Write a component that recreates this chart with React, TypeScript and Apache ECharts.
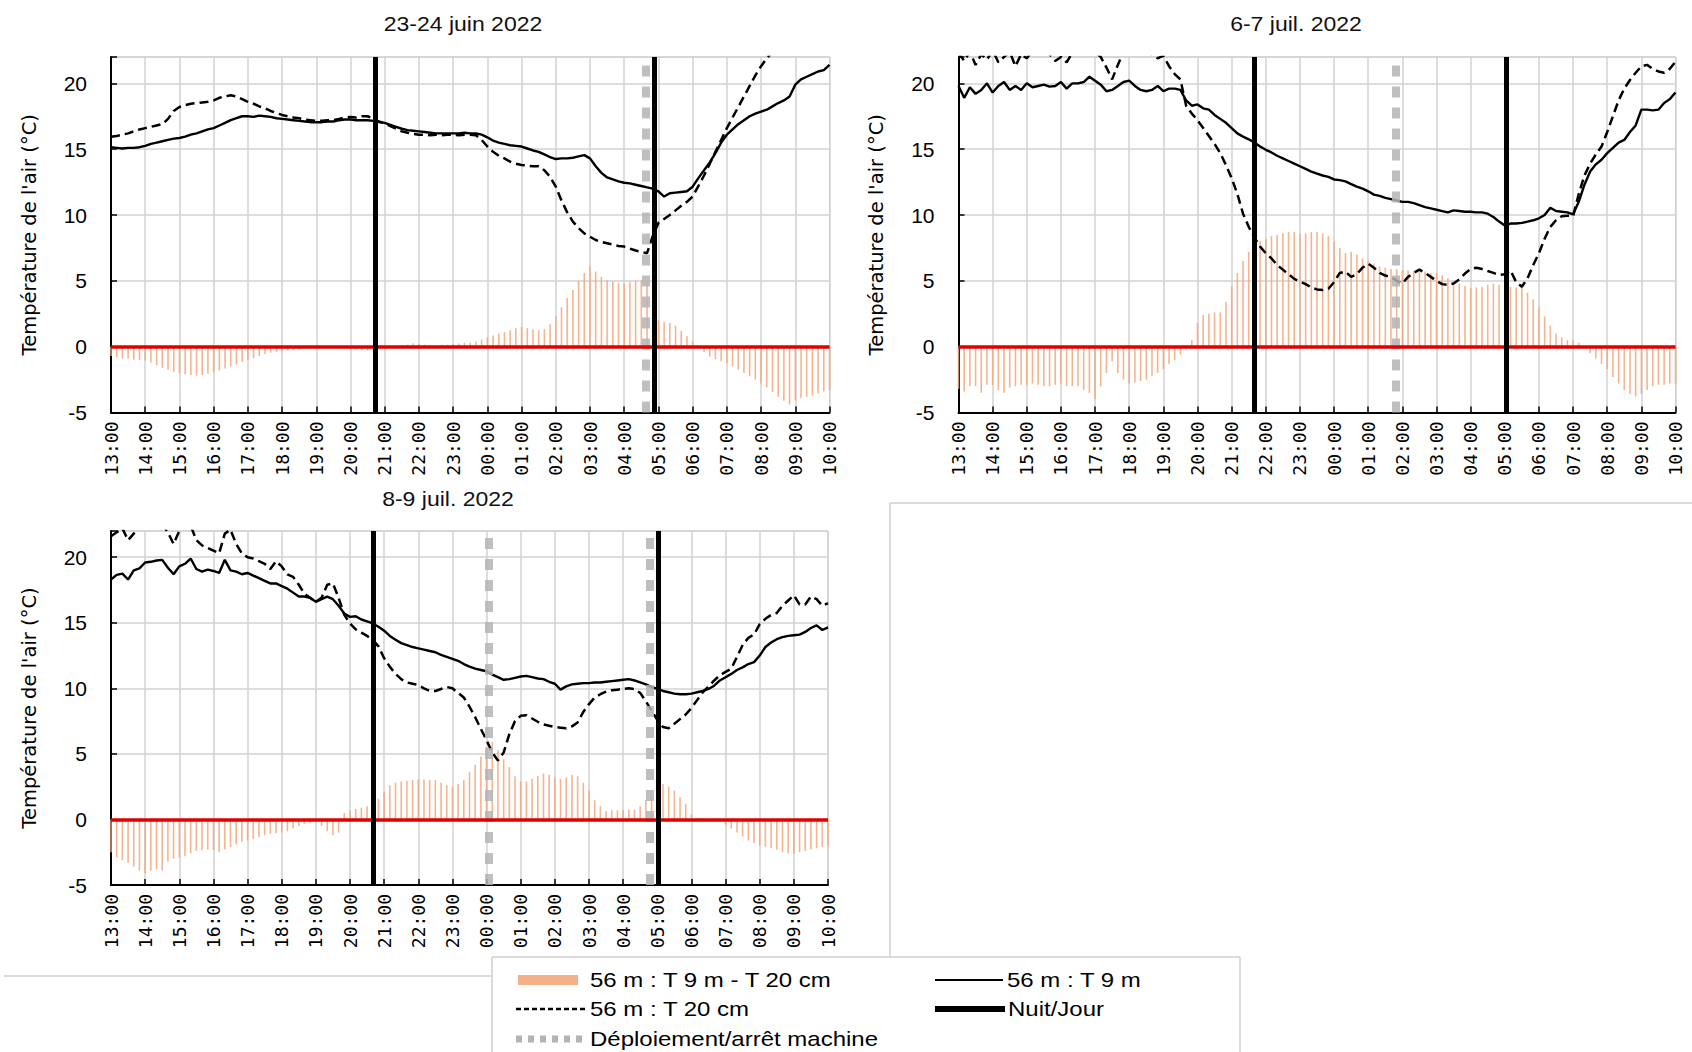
import React, { useEffect, useRef } from "react";
import * as echarts from "echarts";

// ---------- DATA ----------
// x axis: hours from 13:00 (day 1) to 10:00 (day 2)
const HOUR_LABELS = [
  "13:00", "14:00", "15:00", "16:00", "17:00", "18:00", "19:00", "20:00", "21:00", "22:00", "23:00",
  "00:00", "01:00", "02:00", "03:00", "04:00", "05:00", "06:00", "07:00", "08:00", "09:00", "10:00",
];
const STEP_MINUTES = 10; // one reading every 10 minutes, starting at 13:00

const PANEL_TITLES = ["23-24 juin 2022", "6-7 juil. 2022", "8-9 juil. 2022"];

// ---- 23-24 juin 2022 ----
const P1_T9 = [
  15.15, 15.1, 15.05, 15.1, 15.1, 15.15,
  15.25, 15.4, 15.5, 15.6, 15.7, 15.8,
  15.85, 15.95, 16.1, 16.2, 16.35, 16.5,
  16.6, 16.8, 17.0, 17.2, 17.35, 17.5,
  17.5, 17.45, 17.55, 17.5, 17.45, 17.35,
  17.3, 17.25, 17.2, 17.15, 17.1, 17.05,
  17.05, 17.05, 17.1, 17.1, 17.2, 17.25,
  17.25, 17.2, 17.2, 17.2, 17.15, 17.05,
  17.0, 16.85, 16.7, 16.55, 16.45, 16.4,
  16.35, 16.3, 16.25, 16.2, 16.2, 16.2,
  16.2, 16.2, 16.25, 16.2, 16.2, 16.1,
  15.9, 15.65, 15.5, 15.4, 15.3, 15.25,
  15.2, 15.05, 14.9, 14.8, 14.6, 14.4,
  14.25, 14.3, 14.3, 14.35, 14.45, 14.55,
  14.3, 13.7, 13.2, 12.85, 12.7, 12.55,
  12.45, 12.4, 12.3, 12.2, 12.1, 12.0,
  11.8, 11.4, 11.65, 11.7, 11.75, 11.8,
  12.15, 12.8, 13.4, 14.0, 14.7, 15.5,
  16.1, 16.5, 16.9, 17.2, 17.5, 17.7,
  17.85, 18.0, 18.25, 18.5, 18.7, 19.0,
  19.9, 20.3, 20.5, 20.7, 20.9, 21.0,
  21.4,
];
const P1_T20 = [
  15.95, 16.0, 16.1, 16.2, 16.35, 16.5,
  16.6, 16.7, 16.8, 16.9, 17.3, 17.9,
  18.2, 18.35, 18.45, 18.5, 18.55, 18.6,
  18.7, 18.9, 19.0, 19.1, 19.0, 18.8,
  18.6, 18.45, 18.25, 18.1, 17.9, 17.75,
  17.6, 17.5, 17.4, 17.35, 17.25, 17.2,
  17.15, 17.15, 17.2, 17.2, 17.3, 17.4,
  17.45, 17.4, 17.5, 17.5, 17.3, 17.1,
  16.95, 16.75, 16.55, 16.35, 16.25, 16.15,
  16.1, 16.1, 16.05, 16.1, 16.05, 16.1,
  16.1, 16.05, 16.1, 16.1, 16.05, 15.7,
  15.2, 14.8, 14.5, 14.3, 14.05, 13.9,
  13.8, 13.75, 13.7, 13.7, 13.4, 12.9,
  12.15, 11.1, 10.2, 9.5, 9.0, 8.6,
  8.35, 8.1, 7.95, 7.85, 7.75, 7.65,
  7.6, 7.45, 7.3, 7.2, 7.1, 8.4,
  9.4, 9.7, 10.0, 10.35, 10.7, 11.0,
  11.4, 12.2, 13.0, 13.9, 14.8, 15.7,
  16.6, 17.4, 18.2, 19.0, 19.8, 20.6,
  21.3, 21.9, 22.4, null, null, null,
  null, null, null, null, null, null,
  null,
];
const P1_DIFF = [
  -0.7, -0.8, -0.9, -0.9, -1.0, -1.0,
  -1.05, -1.2, -1.4, -1.6, -1.75, -1.9,
  -2.0, -2.1, -2.15, -2.2, -2.15, -2.05,
  -1.9, -1.8, -1.65, -1.5, -1.35, -1.15,
  -1.0, -0.85, -0.7, -0.55, -0.45, -0.4,
  -0.35, -0.3, -0.25, -0.2, -0.15, -0.1,
  -0.1, -0.05, 0.0, -0.05, -0.1, -0.15,
  -0.15, -0.2, -0.25, -0.3, -0.2, 0.0,
  0.05, 0.05, 0.1, 0.1, 0.15, 0.25,
  0.2, 0.15, 0.1, 0.1, 0.15, 0.15,
  0.2, 0.25, 0.3, 0.3, 0.4, 0.55,
  0.7, 0.85, 1.0, 1.1, 1.25, 1.4,
  1.5, 1.4, 1.3, 1.25, 1.35, 1.7,
  2.3, 3.0, 3.7, 4.3, 5.0, 5.6,
  6.1, 5.7, 5.3, 5.05, 4.95, 4.85,
  4.8, 4.9, 5.0, 5.05, 5.05, 3.4,
  2.0, 1.9, 1.8, 1.6, 1.2, 0.8,
  0.4, 0.0, -0.4, -0.75, -0.95, -1.1,
  -1.25, -1.5, -1.75, -2.0, -2.25, -2.5,
  -2.8, -3.1, -3.45, -3.8, -4.1, -4.4,
  -4.1, -3.9, -3.8, -3.7, -3.55, -3.4,
  -3.3,
];
const P1_NUIT_JOUR = ["20:43", "04:52"];
const P1_MACHINE = ["04:37"];

// ---- 6-7 juil. 2022 ----
const P2_T9 = [
  19.8, 18.9, 19.7, 19.2, 19.5, 20.0,
  19.3, 19.8, 20.1, 19.5, 19.8, 19.5,
  20.0, 19.7, 19.8, 19.9, 19.75, 19.8,
  20.1, 19.6, 20.0, 20.0, 20.1, 20.5,
  20.2, 19.9, 19.4, 19.5, 19.8, 20.1,
  20.2, 19.8, 19.5, 19.4, 19.5, 19.8,
  19.4, 19.6, 19.6, 19.5, 18.7, 18.3,
  18.4, 18.1, 18.0, 17.6, 17.3, 17.0,
  16.6, 16.2, 15.95, 15.75, 15.5, 15.2,
  14.95, 14.75, 14.5, 14.3, 14.1, 13.9,
  13.7, 13.5, 13.3, 13.15, 13.0, 12.9,
  12.7, 12.65, 12.55, 12.35, 12.15, 12.0,
  11.8, 11.55, 11.45, 11.3, 11.2, 11.1,
  11.0, 11.0, 10.9, 10.75, 10.6, 10.5,
  10.4, 10.3, 10.2, 10.35, 10.3, 10.25,
  10.25, 10.2, 10.2, 10.1, 9.85, 9.5,
  9.2, 9.35, 9.35, 9.4, 9.5, 9.6,
  9.75, 10.0, 10.55, 10.3, 10.25, 10.2,
  10.05, 11.0, 12.3, 13.3, 13.85, 14.2,
  14.7, 15.1, 15.5, 15.7, 16.3, 16.8,
  18.0, 18.0, 17.95, 18.0, 18.5, 18.8,
  19.3,
];
const P2_T20 = [
  22.3, 21.7, 22.4, 21.4, 22.2, 21.8,
  22.5, 21.6, 22.0, 22.4, 21.3, 22.2,
  21.9, 22.5, 22.3, 22.6, 22.2, 21.7,
  22.0, 21.6, 22.3, 22.6, 22.8, 22.5,
  22.4, 22.0, 21.2, 20.3, 21.4, 22.4,
  22.8, 22.9, 22.7, 22.5, 22.2, 21.9,
  22.1, 21.3, 20.7, 20.3, 18.3, 17.7,
  17.2, 16.6, 16.0, 15.4, 14.7, 13.8,
  12.8, 11.6, 10.1, 9.1, 8.3, 7.6,
  7.1, 6.7, 6.2, 5.85, 5.5, 5.15,
  4.95, 4.75, 4.5, 4.35, 4.3, 4.4,
  4.9, 5.6, 5.7, 5.3, 5.5, 6.0,
  6.3, 6.0, 5.6, 5.4, 5.3, 5.0,
  4.8, 5.3, 5.6, 5.85, 5.6, 5.3,
  5.0, 4.75, 4.7, 4.8, 5.1, 5.55,
  5.9, 6.0, 5.9, 5.75, 5.6, 5.45,
  5.5, 5.8, 4.9, 4.55, 5.2, 6.2,
  7.1, 8.2, 9.1, 9.6, 9.9, 9.95,
  9.9, 11.6, 13.0, 13.9, 14.6, 15.2,
  16.3, 17.5, 18.7, 19.6, 20.25, 20.8,
  21.3, 21.4, 21.1, 20.9, 20.8, 21.1,
  21.65,
];
const P2_DIFF = [
  -3.2, -3.4, -3.0, -3.0, -3.5, -2.9,
  -2.9, -3.3, -3.5, -3.1, -3.0, -2.9,
  -2.9, -2.8, -2.9, -3.0, -3.0, -2.9,
  -2.8, -3.0, -3.0, -3.0, -3.3, -3.5,
  -4.0, -3.0, -2.0, -1.1, -2.0, -2.5,
  -2.8, -2.7, -2.6, -2.5, -2.2, -2.0,
  -1.7, -1.3, -1.0, -0.6, -0.2, 0.5,
  1.8, 2.4, 2.5, 2.6, 2.6, 3.4,
  4.6, 5.6, 6.5, 7.2, 7.8, 8.0,
  8.2, 8.4, 8.5, 8.6, 8.7, 8.7,
  8.6, 8.6, 8.7, 8.7, 8.6, 8.4,
  8.0, 7.5, 7.1, 7.2, 7.0, 6.7,
  6.5, 6.3, 6.1, 6.0, 5.9, 5.9,
  5.8, 5.8, 5.7, 5.7, 5.7, 5.6,
  5.6, 5.4, 5.2, 5.0, 4.8, 4.6,
  4.45, 4.5, 4.55, 4.7, 4.8, 4.7,
  4.55, 4.55, 4.5, 4.5, 4.1, 3.6,
  3.0, 2.3, 1.6, 1.0, 0.7, 0.5,
  0.5, 0.3, -0.1, -0.5, -0.9, -1.3,
  -1.7, -2.3, -2.8, -3.3, -3.6, -3.8,
  -3.6, -3.3, -3.0, -2.9, -2.9, -2.8,
  -2.8,
];
const P2_NUIT_JOUR = ["21:39", "05:03"];
const P2_MACHINE = ["01:49"];

// ---- 8-9 juil. 2022 ----
const P3_T9 = [
  18.3, 18.65, 18.75, 18.3, 19.0, 19.15,
  19.6, 19.65, 19.75, 19.8, 19.2, 18.7,
  19.3, 19.5, 19.9, 19.1, 18.9, 19.05,
  18.95, 18.8, 19.8, 19.0, 18.9, 18.7,
  18.8, 18.6, 18.4, 18.2, 18.0, 18.0,
  17.8, 17.6, 17.3, 17.0, 17.0, 16.9,
  16.6, 16.8, 17.0, 16.8, 16.3, 15.7,
  15.45, 15.5, 15.25, 15.1, 14.95, 14.7,
  14.4, 14.0, 13.7, 13.45, 13.3, 13.15,
  13.05, 12.95, 12.85, 12.75, 12.55, 12.4,
  12.25, 12.1, 11.85, 11.65, 11.5, 11.4,
  11.3, 11.05, 10.85, 10.65, 10.7, 10.8,
  10.9, 10.95, 10.85, 10.75, 10.7, 10.5,
  10.35, 9.9, 10.15, 10.3, 10.35, 10.4,
  10.4, 10.45, 10.45, 10.5, 10.55, 10.6,
  10.65, 10.7, 10.6, 10.45, 10.3, 10.1,
  9.95, 9.8, 9.7, 9.6, 9.55, 9.55,
  9.6, 9.7, 9.8, 9.95, 10.2, 10.6,
  10.85, 11.1, 11.4, 11.6, 11.85, 12.0,
  12.5, 13.15, 13.5, 13.75, 13.9, 14.0,
  14.05, 14.1, 14.3, 14.6, 14.8, 14.45,
  14.65,
];
const P3_T20 = [
  21.6, 21.9, 22.2, 21.3, 21.8, 22.3,
  22.6, 22.8, 22.9, 22.5, 21.9, 21.0,
  22.0, 22.6, 22.4, 21.3, 20.9, 20.7,
  20.5, 20.3, 21.8, 22.1, 21.0, 20.3,
  20.0, 19.9, 19.7, 19.5, 19.1, 19.7,
  19.3, 18.7, 18.5, 17.9, 17.2, 16.9,
  16.6, 16.9, 17.9, 18.0, 16.9, 15.6,
  14.95, 14.5, 14.25, 14.0, 13.7, 13.2,
  12.3, 11.65, 11.1, 10.7, 10.45, 10.35,
  10.25, 10.0, 9.8, 9.8, 9.95, 10.1,
  10.0, 9.65, 9.3, 8.6, 7.8, 6.9,
  6.05, 5.1, 4.5, 5.1, 6.5, 7.5,
  7.9, 7.95, 7.7, 7.45, 7.25, 7.15,
  7.05, 7.0, 6.95, 7.1, 7.4, 8.2,
  8.8, 9.3, 9.55, 9.75, 9.85, 9.9,
  9.95, 10.0, 9.95, 9.65, 9.0, 8.3,
  7.6, 7.05, 6.95, 7.3, 7.65, 8.0,
  8.5, 9.1, 9.7, 10.15, 10.6, 11.0,
  11.25, 11.5, 12.4, 13.3, 13.85, 14.1,
  14.9, 15.3, 15.6, 15.75, 16.3, 16.7,
  17.1, 16.4, 16.4, 17.0, 16.8, 16.3,
  16.5,
];
const P3_DIFF = [
  -2.5, -2.9, -3.1, -3.3, -3.6, -3.9,
  -4.1, -3.9, -3.8, -3.9, -3.2, -3.0,
  -2.9, -2.8, -2.6, -2.4, -2.35, -2.3,
  -2.35, -2.5, -2.3, -2.1, -1.9, -1.7,
  -1.6, -1.5, -1.35, -1.2, -1.1, -1.05,
  -1.0, -0.9, -0.7, -0.5, -0.35, -0.25,
  -0.2, -0.5, -0.9, -1.2, -1.0, 0.5,
  0.7, 0.8, 0.9, 1.0, 1.1, 1.6,
  2.1, 2.6, 2.8, 2.9, 2.95, 3.0,
  3.05, 3.05, 3.0, 3.0, 2.8, 2.6,
  2.5, 2.7, 3.0, 3.6, 4.2, 4.8,
  5.5, 5.9, 5.3, 4.6, 4.0, 3.3,
  2.9, 2.9, 3.1, 3.3, 3.5, 3.4,
  3.2, 3.1, 3.2, 3.4, 3.3, 2.8,
  2.2, 1.5, 1.0, 0.65, 0.7, 0.7,
  0.7, 0.75, 0.75, 1.0, 1.5, 1.7,
  2.7, 2.7, 2.5, 2.2, 1.7, 1.2,
  0.4, 0.1, 0.05, 0.0, -0.1, -0.2,
  -0.4, -0.7, -1.0, -1.3, -1.6, -1.8,
  -2.0, -2.1, -2.2, -2.3, -2.5, -2.6,
  -2.6, -2.5, -2.4, -2.3, -2.2, -2.1,
  -2.0,
];
const P3_NUIT_JOUR = ["20:40", "05:02"];
const P3_MACHINE = ["00:04", "04:47"];

const Y_MIN = -5;
const Y_MAX = 22;
const Y_STEP = 5;

const LEGEND_NAMES = [
  "56 m : T 9 m - T 20 cm",
  "56 m : T 9 m",
  "56 m : T 20 cm",
  "Nuit/Jour",
  "Déploiement/arrêt machine",
];
const Y_TITLE = "Température de l'air (°C)";

// ---------- LAYOUT / STYLE ----------
const GRIDS = [
  { left: 111, top: 57, width: 718.5, height: 355.5 },
  { left: 958.5, top: 57, width: 717, height: 355.5 },
  { left: 111, top: 531, width: 717, height: 354 },
];
const TITLE_POS = [
  [463, 24],
  [1296, 24],
  [448, 499],
];
const ORANGE = "#f3a77c";
const GRAY_DASH = "#b4b4b4";
const GRID_GRAY = "#d2d2d2";
const FRAME_GRAY = "#cfcfcf";

function toHours(hhmm: string): number {
  const [h, m] = hhmm.split(":").map(Number);
  return ((h - 13 + 24) % 24) + m / 60;
}

function pairs(values: (number | null)[]) {
  return values.map((v, i) => [(i * STEP_MINUTES) / 60, v]);
}

const PANELS = [
  { title: PANEL_TITLES[0], t9: P1_T9, t20: P1_T20, diff: P1_DIFF, nuit: P1_NUIT_JOUR, machine: P1_MACHINE },
  { title: PANEL_TITLES[1], t9: P2_T9, t20: P2_T20, diff: P2_DIFF, nuit: P2_NUIT_JOUR, machine: P2_MACHINE },
  { title: PANEL_TITLES[2], t9: P3_T9, t20: P3_T20, diff: P3_DIFF, nuit: P3_NUIT_JOUR, machine: P3_MACHINE },
];

function buildOption() {
  const grid: any[] = [];
  const xAxis: any[] = [];
  const yAxis: any[] = [];
  const series: any[] = [];
  const graphic: any[] = [];

  PANELS.forEach((p, k) => {
    grid.push({ ...GRIDS[k], show: true, borderColor: "#c4c4c4", borderWidth: 1, backgroundColor: "transparent" });
    xAxis.push({
      type: "value",
      gridIndex: k,
      min: 0,
      max: HOUR_LABELS.length - 1,
      interval: 1,
      axisLine: { show: true, onZero: false, lineStyle: { color: "#000", width: 2 } },
      axisTick: { show: true, inside: true, length: 6, lineStyle: { color: "#000", width: 1.5 } },
      axisLabel: {
        rotate: 90,
        margin: 9,
        color: "#000",
        fontFamily: "DejaVu Sans Mono",
        fontSize: 18,
        formatter: (v: number) => HOUR_LABELS[Math.round(v)] ?? "",
      },
      splitLine: { show: true, lineStyle: { color: GRID_GRAY, width: 1.5 } },
    });
    yAxis.push({
      type: "value",
      gridIndex: k,
      min: Y_MIN,
      max: Y_MAX,
      interval: Y_STEP,
      name: Y_TITLE,
      nameLocation: "middle",
      nameGap: 72,
      nameTextStyle: { fontFamily: "DejaVu Sans", fontSize: 19.5, color: "#000" },
      axisLine: { show: true, lineStyle: { color: "#000", width: 2 } },
      axisTick: { show: true, inside: true, length: 6, lineStyle: { color: "#000", width: 1.5 } },
      axisLabel: {
        margin: 24,
        color: "#000",
        fontFamily: "Liberation Sans",
        fontSize: 21,
        formatter: (v: number) => (v > 20 ? "" : String(v)),
      },
      splitLine: { show: true, lineStyle: { color: GRID_GRAY, width: 1.5 } },
    });

    series.push({
      type: "bar",
      name: LEGEND_NAMES[0],
      xAxisIndex: k,
      yAxisIndex: k,
      data: pairs(p.diff),
      barWidth: 1.6,
      itemStyle: { color: ORANGE, opacity: 0.85 },
      silent: true,
      z: 2,
      markLine: {
        silent: true,
        symbol: ["none", "none"],
        label: { show: false },
        data: [
          ...p.machine.map((t) => ({
            xAxis: toHours(t),
            lineStyle: { color: GRAY_DASH, width: 8, type: [11, 10], opacity: 0.85 },
          })),
          { yAxis: 0, lineStyle: { color: "#e00000", width: 3.5, type: "solid", opacity: 1 } },
        ],
      },
    });
    series.push({
      type: "line",
      name: LEGEND_NAMES[2],
      xAxisIndex: k,
      yAxisIndex: k,
      data: pairs(p.t20),
      showSymbol: false,
      symbol: "none",
      clip: true,
      silent: true,
      lineStyle: { color: "#000", width: 2.5, type: [9, 5] },
      z: 3,
    });
    series.push({
      type: "line",
      name: LEGEND_NAMES[1],
      xAxisIndex: k,
      yAxisIndex: k,
      data: pairs(p.t9),
      showSymbol: false,
      symbol: "none",
      clip: true,
      silent: true,
      lineStyle: { color: "#000", width: 2.4 },
      z: 4,
      markLine: {
        silent: true,
        symbol: ["none", "none"],
        label: { show: false },
        data: p.nuit.map((t) => ({ xAxis: toHours(t), lineStyle: { color: "#000", width: 5, type: "solid" } })),
      },
    });

    graphic.push({
      type: "text",
      x: TITLE_POS[k][0],
      y: TITLE_POS[k][1],
      scaleX: 1.15,
      silent: true,
      style: {
        text: p.title,
        fontFamily: "Liberation Sans",
        fontSize: 20,
        fontWeight: "normal",
        fill: "#111",
        align: "center",
        verticalAlign: "middle",
        textAlign: "center",
        textVerticalAlign: "middle",
      },
    });
  });

  // frame lines of the original layout
  const frame = (x1: number, y1: number, x2: number, y2: number) => ({
    type: "line",
    silent: true,
    shape: { x1, y1, x2, y2 },
    style: { stroke: FRAME_GRAY, lineWidth: 1.5 },
  });
  graphic.push(frame(890, 503, 1692, 503));
  graphic.push(frame(890, 503, 890, 957));
  graphic.push(frame(492, 957, 1240, 957));
  graphic.push(frame(492, 957, 492, 1052));
  graphic.push(frame(1240, 957, 1240, 1052));
  graphic.push(frame(4, 976, 492, 976));

  // legend
  const legendText = (text: string, x: number, y: number) => ({
    type: "text",
    x,
    y,
    scaleX: 1.2,
    silent: true,
    style: {
      text,
      fontFamily: "Liberation Sans",
      fontSize: 20,
      fill: "#000",
      align: "left",
      verticalAlign: "middle",
      textAlign: "left",
      textVerticalAlign: "middle",
    },
  });
  const legendLine = (x1: number, x2: number, y: number, stroke: string, lineWidth: number, lineDash?: number[]) => ({
    type: "line",
    silent: true,
    shape: { x1, y1: y, x2, y2: y },
    style: { stroke, lineWidth, lineDash },
  });
  graphic.push({
    type: "rect",
    silent: true,
    shape: { x: 518, y: 975, width: 60, height: 10 },
    style: { fill: ORANGE, opacity: 0.9 },
  });
  graphic.push(legendText(LEGEND_NAMES[0], 590, 980));
  graphic.push(legendLine(935, 1003, 980, "#000", 2));
  graphic.push(legendText(LEGEND_NAMES[1], 1007, 980));
  graphic.push(legendLine(516, 587, 1009, "#000", 2.5, [5, 3]));
  graphic.push(legendText(LEGEND_NAMES[2], 590, 1009));
  graphic.push(legendLine(935, 1005, 1009, "#000", 6));
  graphic.push(legendText(LEGEND_NAMES[3], 1008, 1009));
  graphic.push(legendLine(516, 587, 1039, GRAY_DASH, 7, [6, 6]));
  graphic.push(legendText(LEGEND_NAMES[4], 590, 1039));

  return {
    animation: false,
    backgroundColor: "#ffffff",
    grid,
    xAxis,
    yAxis,
    series,
    graphic,
  };
}

export default function App() {
  const ref = useRef<HTMLDivElement>(null);
  useEffect(() => {
    if (!ref.current) return;
    const chart = echarts.init(ref.current, null, { renderer: "svg" });
    chart.setOption(buildOption() as any);
    return () => chart.dispose();
  }, []);
  return (
    <div
      ref={ref}
      style={{ position: "fixed", left: 0, top: 0, width: 1692, height: 1052, background: "#fff" }}
    />
  );
}
